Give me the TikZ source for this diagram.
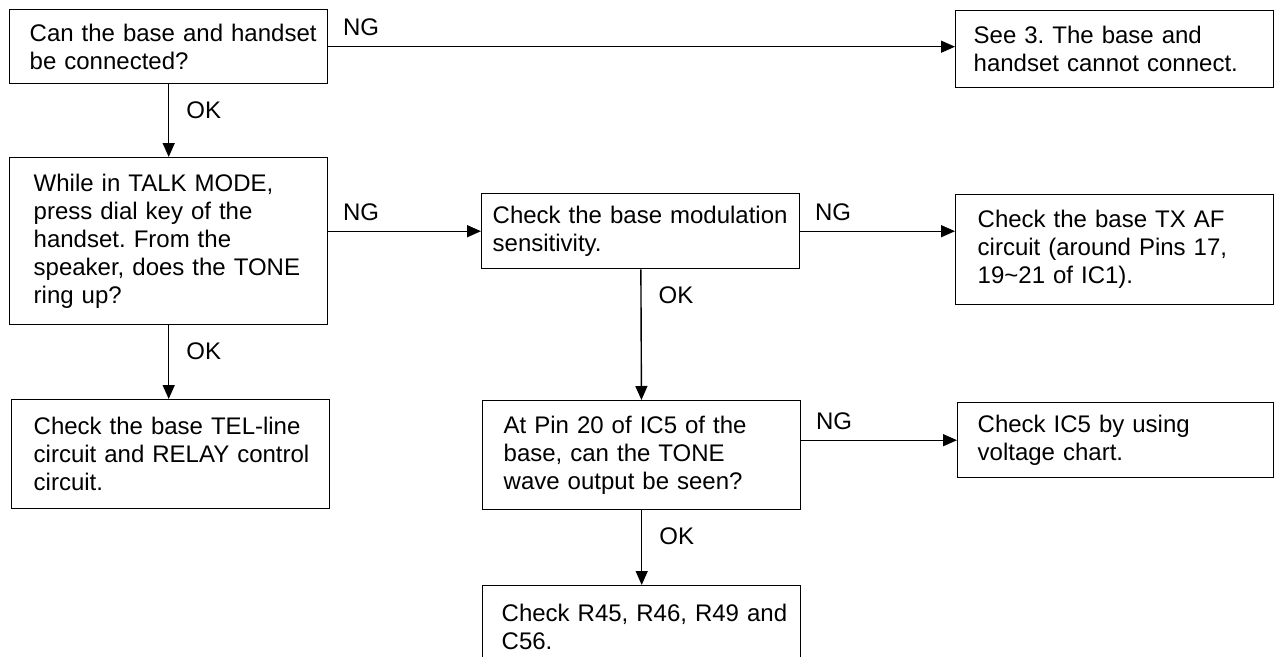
\documentclass[tikz,border=0pt]{standalone}
\usepackage{fontspec}
\setmainfont{Liberation Sans}
\frenchspacing
\usetikzlibrary{arrows.meta}

\tikzset{
    fc text/.style={font=\fontsize{24pt}{28pt}\selectfont},
    fc box/.style={fc text, draw=black, line width=1.4pt, rectangle,
                   anchor=north west, minimum width=318pt,
                   inner xsep=0pt, inner ysep=0pt,
                   text width=318pt, align=left,
                   execute at begin node={\leftskip=#1}},
    fc box/.default=21pt,
    fc flow/.style={-{Triangle[length=14pt, width=12pt]}, line width=1.4pt},
    fc ng/.style={fc text, pos=0, anchor=base west, inner sep=0pt,
                  xshift=14pt, yshift=11pt},
    fc ok/.style={fc text, pos=0, anchor=base west, inner sep=0pt,
                  xshift=17pt, yshift=-34pt},
}

\begin{document}
\begin{tikzpicture}[x=1pt, y=-1pt]
    \useasboundingbox (0,0) rectangle (1274,656);
    % Left column
    \node[fc box=20pt, minimum height=74pt] (conn) at (9,9)
        {Can the base and handset\\be connected?};
    \node[fc box=24pt, minimum height=167pt] (tone) at (9,157)
        {While in TALK MODE,\\press dial key of the\\handset. From the\\speaker, does the TONE\\ring up?};
    \node[fc box=22pt, minimum height=109pt] (telline) at (11,399)
        {Check the base TEL-line\\circuit and RELAY control\\circuit.};
    % Middle column
    \node[fc box=11pt, minimum height=75pt] (modsens) at (481,193)
        {Check the base modulation\\sensitivity.};
    \node[fc box, minimum height=109pt] (pin20) at (482,400)
        {At Pin 20 of IC5 of the\\base, can the TONE\\wave output be seen?};
    \node[fc box=19pt, minimum height=82pt] (resist) at (482,585)
        {Check R45, R46, R49 and\\C56.};
    % Right column
    \node[fc box=18pt, minimum height=77pt] (see3) at (955,10)
        {See 3. The base and\\handset cannot connect.};
    \node[fc box=22pt, minimum height=110pt] (txaf) at (955,194)
        {Check the base TX AF\\circuit (around Pins 17,\\19\textasciitilde 21 of IC1).};
    \node[fc box=20pt, minimum height=75pt, minimum width=316pt, text width=316pt]
        (ic5) at (957,402)
        {Check IC5 by using\\voltage chart.};

    % OK branches
    \draw[fc flow] (conn) -- (tone) node[fc ok] (ok1) {OK};
    \draw[fc flow] (tone) -- (telline.north -| tone.south) node[fc ok] (ok2) {OK};
    \draw[fc flow] (modsens) -- (pin20) node[fc ok] (ok3) {OK};
    \draw[fc flow] (pin20) -- (resist) node[fc ok] (ok4) {OK};
    % NG branches
    \draw[fc flow] (conn.east) -- (conn.east -| see3.west) node[fc ng] (ng1) {NG};
    \draw[fc flow] (modsens.west -| tone.east) -- (modsens.west) node[fc ng] (ng2) {NG};
    \draw[fc flow] (modsens.east) -- (modsens.east -| txaf.west) node[fc ng] (ng3) {NG};
    \draw[fc flow] (ic5.west -| pin20.east) -- (ic5.west) node[fc ng] (ng4) {NG};
\end{tikzpicture}
\end{document}
